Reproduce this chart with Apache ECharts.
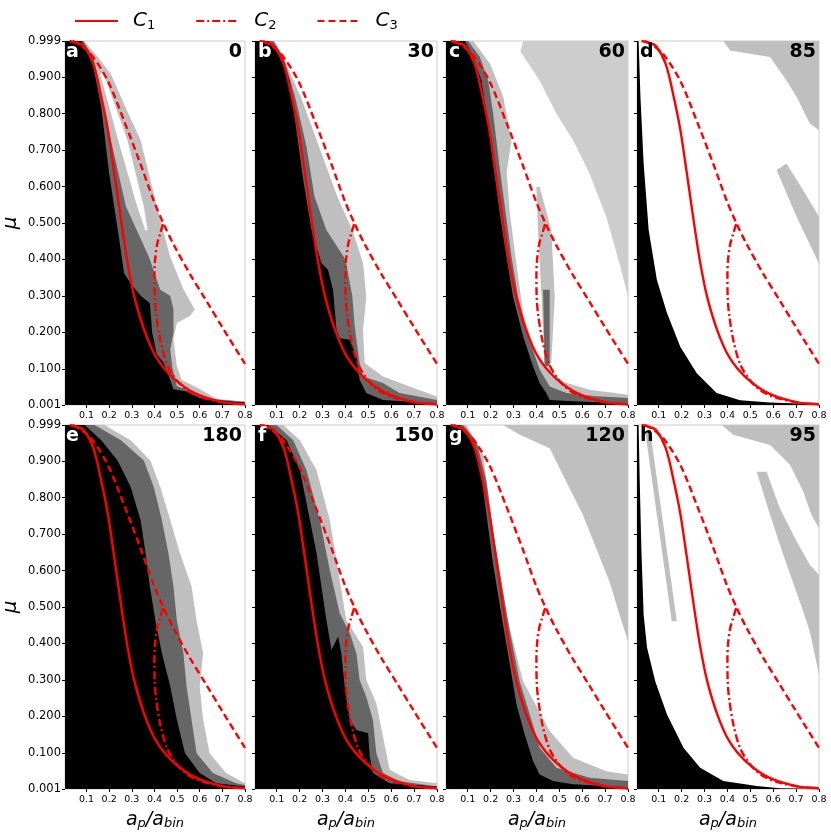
<!DOCTYPE html>
<html>
<head>
<meta charset="utf-8">
<script src="https://cdn.jsdelivr.net/npm/echarts@6/dist/echarts.min.js"></script>
<style>
html,body{margin:0;padding:0;background:#fff;}
#main{width:831px;height:833px;}
</style>
</head>
<body>
<div id="main"></div>
<script>
// tick labels
var xTicks = [0.1, 0.2, 0.3, 0.4, 0.5, 0.6, 0.7, 0.8];
var yTicks = [0.001, 0.1, 0.2, 0.3, 0.4, 0.5, 0.6, 0.7, 0.8, 0.9, 0.999];

// analytic curves (same in every panel)
var c1 = [[0.025,0.999],[0.058,0.994],[0.088,0.985],[0.131,0.935],[0.166,0.844],[0.195,0.753],[0.217,0.661],[0.238,0.57],[0.259,0.479],[0.282,0.388],[0.312,0.296],[0.356,0.205],[0.408,0.132],[0.48,0.077],[0.583,0.032],[0.7,0.009],[0.8,0.003]];
var c2 = [[0.438,0.497],[0.425,0.47],[0.412,0.442],[0.403,0.4],[0.4,0.36],[0.401,0.3],[0.407,0.251],[0.426,0.178],[0.455,0.114],[0.499,0.068],[0.557,0.036],[0.629,0.018],[0.731,0.006],[0.8,0.003]];
var c3 = [[0.04,0.999],[0.078,0.985],[0.121,0.962],[0.194,0.89],[0.266,0.78],[0.339,0.661],[0.397,0.561],[0.441,0.497],[0.484,0.442],[0.557,0.36],[0.629,0.287],[0.702,0.212],[0.8,0.114]];

// panel a (0)
var lightA = [[0.005,0.999],[0.09,0.999],[0.15,0.955],[0.208,0.908],[0.27,0.82],[0.339,0.727],[0.411,0.545],[0.469,0.408],[0.527,0.32],[0.578,0.263],[0.557,0.245],[0.499,0.226],[0.484,0.181],[0.499,0.108],[0.52,0.07],[0.6,0.045],[0.673,0.018],[0.8,0.01],[0.8,0.001],[0.005,0.001]];
var gapA = [[0.16,0.91],[0.175,0.91],[0.281,0.727],[0.353,0.545],[0.37,0.48],[0.36,0.48],[0.324,0.545],[0.24,0.727]];
var darkA = [[0.005,0.999],[0.085,0.999],[0.13,0.955],[0.16,0.868],[0.208,0.727],[0.274,0.545],[0.375,0.408],[0.426,0.317],[0.47,0.3],[0.484,0.263],[0.484,0.199],[0.47,0.153],[0.48,0.1],[0.499,0.053],[0.571,0.035],[0.658,0.017],[0.8,0.01],[0.8,0.001],[0.005,0.001]];
var blackA = [[0.005,0.999],[0.078,0.999],[0.121,0.955],[0.136,0.91],[0.165,0.818],[0.2,0.636],[0.245,0.453],[0.266,0.362],[0.3,0.33],[0.34,0.3],[0.38,0.28],[0.39,0.2],[0.41,0.14],[0.441,0.117],[0.47,0.069],[0.484,0.044],[0.542,0.038],[0.6,0.02],[0.745,0.01],[0.8,0.008],[0.8,0.001],[0.005,0.001]];

// panel b (30)
var lightB = [[0.005,0.999],[0.09,0.999],[0.14,0.937],[0.205,0.846],[0.285,0.709],[0.365,0.572],[0.43,0.481],[0.477,0.39],[0.491,0.298],[0.477,0.207],[0.484,0.116],[0.564,0.079],[0.68,0.052],[0.8,0.024],[0.8,0.001],[0.005,0.001]];
var darkB = [[0.005,0.999],[0.085,0.999],[0.13,0.955],[0.18,0.846],[0.23,0.709],[0.265,0.572],[0.317,0.481],[0.4,0.4],[0.43,0.3],[0.44,0.22],[0.448,0.18],[0.462,0.116],[0.477,0.079],[0.564,0.061],[0.636,0.034],[0.8,0.015],[0.8,0.001],[0.005,0.001]];
var blackB = [[0.005,0.999],[0.063,0.999],[0.114,0.964],[0.157,0.891],[0.186,0.754],[0.216,0.618],[0.252,0.481],[0.295,0.39],[0.324,0.371],[0.346,0.316],[0.361,0.207],[0.375,0.184],[0.419,0.18],[0.448,0.134],[0.462,0.07],[0.491,0.034],[0.564,0.015],[0.8,0.006],[0.8,0.001],[0.005,0.001]];

// panel c (60)
var topC = [[0.342,0.999],[0.8,0.999],[0.8,0.298],[0.763,0.389],[0.705,0.517],[0.632,0.636],[0.56,0.727],[0.487,0.8],[0.414,0.891],[0.33,0.97]];
var lightC = [[0.005,0.999],[0.124,0.999],[0.197,0.937],[0.255,0.846],[0.291,0.727],[0.27,0.64],[0.284,0.526],[0.31,0.4],[0.342,0.253],[0.4,0.134],[0.487,0.07],[0.632,0.043],[0.8,0.029],[0.8,0.001],[0.005,0.001]];
var darkC = [[0.005,0.999],[0.102,0.999],[0.153,0.955],[0.189,0.891],[0.211,0.8],[0.237,0.663],[0.266,0.526],[0.291,0.408],[0.32,0.298],[0.364,0.189],[0.414,0.098],[0.458,0.052],[0.531,0.034],[0.661,0.025],[0.8,0.02],[0.8,0.001],[0.005,0.001]];
var blackC = [[0.005,0.999],[0.088,0.999],[0.124,0.955],[0.16,0.891],[0.182,0.8],[0.211,0.663],[0.24,0.526],[0.269,0.408],[0.298,0.298],[0.342,0.189],[0.385,0.107],[0.414,0.061],[0.443,0.034],[0.458,0.015],[0.56,0.011],[0.8,0.006],[0.8,0.001],[0.005,0.001]];
var spikeLightC = [[0.4,0.599],[0.414,0.599],[0.465,0.481],[0.48,0.298],[0.465,0.116],[0.436,0.107],[0.422,0.298],[0.407,0.481]];
var spikeDarkC = [[0.429,0.317],[0.458,0.317],[0.458,0.107],[0.436,0.107]];

// panel d (85)
var topD = [[0.382,0.999],[0.8,0.999],[0.8,0.754],[0.76,0.773],[0.702,0.846],[0.658,0.891],[0.586,0.955],[0.412,0.973]];
var bandD = [[0.615,0.645],[0.658,0.663],[0.731,0.59],[0.8,0.517],[0.8,0.389],[0.702,0.517]];
var blackD = [[0.005,0.999],[0.012,0.999],[0.02,0.846],[0.034,0.663],[0.056,0.481],[0.092,0.344],[0.136,0.253],[0.194,0.161],[0.266,0.088],[0.353,0.034],[0.455,0.014],[0.586,0.008],[0.8,0.003],[0.8,0.001],[0.005,0.001]];

// panel e (180)
var lightE = [[0.005,0.999],[0.179,0.999],[0.295,0.957],[0.382,0.902],[0.426,0.829],[0.47,0.738],[0.513,0.647],[0.564,0.556],[0.586,0.464],[0.615,0.373],[0.6,0.282],[0.615,0.191],[0.644,0.099],[0.716,0.045],[0.8,0.017],[0.8,0.001],[0.005,0.001]];
var darkE = [[0.005,0.999],[0.136,0.999],[0.252,0.957],[0.353,0.902],[0.397,0.829],[0.433,0.738],[0.462,0.647],[0.484,0.556],[0.499,0.464],[0.528,0.373],[0.542,0.282],[0.564,0.191],[0.586,0.099],[0.658,0.045],[0.76,0.017],[0.8,0.012],[0.8,0.001],[0.005,0.001]];
var blackE = [[0.005,0.999],[0.092,0.999],[0.165,0.957],[0.237,0.902],[0.295,0.829],[0.339,0.738],[0.361,0.647],[0.38,0.556],[0.404,0.464],[0.433,0.373],[0.47,0.282],[0.499,0.191],[0.535,0.099],[0.6,0.045],[0.673,0.017],[0.8,0.008],[0.8,0.001],[0.005,0.001]];

// panel f (150)
var lightF = [[0.005,0.999],[0.128,0.999],[0.201,0.957],[0.274,0.875],[0.332,0.738],[0.368,0.601],[0.404,0.464],[0.477,0.391],[0.491,0.3],[0.535,0.236],[0.564,0.145],[0.593,0.054],[0.68,0.026],[0.8,0.017],[0.8,0.001],[0.005,0.001]];
var darkF = [[0.005,0.999],[0.099,0.999],[0.172,0.957],[0.23,0.875],[0.288,0.738],[0.332,0.601],[0.375,0.483],[0.419,0.428],[0.448,0.373],[0.462,0.3],[0.491,0.254],[0.52,0.19],[0.535,0.099],[0.564,0.045],[0.636,0.022],[0.8,0.008],[0.8,0.001],[0.005,0.001]];
var blackF = [[0.005,0.999],[0.063,0.999],[0.143,0.957],[0.201,0.875],[0.245,0.738],[0.274,0.647],[0.295,0.556],[0.317,0.464],[0.339,0.382],[0.368,0.419],[0.382,0.373],[0.397,0.282],[0.419,0.191],[0.448,0.163],[0.499,0.154],[0.506,0.09],[0.52,0.045],[0.593,0.017],[0.8,0.008],[0.8,0.001],[0.005,0.001]];

// panel g (120)
var topG = [[0.255,0.999],[0.8,0.999],[0.8,0.406],[0.763,0.479],[0.719,0.57],[0.661,0.661],[0.603,0.753],[0.53,0.844],[0.458,0.935],[0.327,0.972]];
var lightG = [[0.005,0.999],[0.095,0.999],[0.168,0.917],[0.211,0.707],[0.269,0.479],[0.342,0.296],[0.458,0.16],[0.56,0.087],[0.705,0.05],[0.8,0.041],[0.8,0.001],[0.005,0.001]];
var darkG = [[0.005,0.999],[0.08,0.999],[0.139,0.953],[0.182,0.844],[0.211,0.707],[0.247,0.57],[0.284,0.433],[0.327,0.296],[0.371,0.205],[0.414,0.114],[0.487,0.059],[0.632,0.032],[0.8,0.023],[0.8,0.001],[0.005,0.001]];
var blackG = [[0.005,0.999],[0.066,0.999],[0.117,0.953],[0.153,0.89],[0.182,0.753],[0.211,0.616],[0.247,0.479],[0.284,0.342],[0.313,0.233],[0.349,0.15],[0.385,0.078],[0.414,0.041],[0.472,0.023],[0.56,0.014],[0.8,0.006],[0.8,0.001],[0.005,0.001]];

// panel h (95)
var topH = [[0.375,0.999],[0.8,0.999],[0.8,0.716],[0.767,0.753],[0.731,0.817],[0.673,0.89],[0.586,0.944],[0.426,0.972]];
var bandH = [[0.528,0.871],[0.571,0.871],[0.629,0.771],[0.702,0.68],[0.76,0.616],[0.8,0.588],[0.8,0.315],[0.76,0.433],[0.716,0.515],[0.644,0.643],[0.586,0.753]];
var streakH = [[0.041,0.981],[0.063,0.981],[0.179,0.461],[0.157,0.461]];
var blackH = [[0.005,0.999],[0.012,0.999],[0.017,0.844],[0.024,0.661],[0.034,0.479],[0.049,0.388],[0.085,0.296],[0.136,0.205],[0.208,0.114],[0.281,0.059],[0.382,0.023],[0.528,0.009],[0.629,0.003],[0.8,0.002],[0.8,0.001],[0.005,0.001]];

var LIGHT = '#bfbfbf', DARK = '#666666', BLACK = '#000000', WHITE = '#ffffff';

var panels = [
    {letter:'a', num:'0',   lc:'#fff', regions:[[lightA,LIGHT],[gapA,WHITE],[darkA,DARK],[blackA,BLACK]]},
    {letter:'b', num:'30',  lc:'#fff', regions:[[lightB,LIGHT],[darkB,DARK],[blackB,BLACK]]},
    {letter:'c', num:'60',  lc:'#fff', regions:[[topC,'#cdcdcd'],[lightC,LIGHT],[darkC,DARK],[blackC,BLACK],[spikeLightC,LIGHT],[spikeDarkC,DARK]]},
    {letter:'d', num:'85',  lc:'#000', regions:[[topD,LIGHT],[bandD,LIGHT],[blackD,BLACK]]},
    {letter:'e', num:'180', lc:'#fff', regions:[[lightE,LIGHT],[darkE,DARK],[blackE,BLACK]]},
    {letter:'f', num:'150', lc:'#fff', regions:[[lightF,LIGHT],[darkF,DARK],[blackF,BLACK]]},
    {letter:'g', num:'120', lc:'#fff', regions:[[topG,LIGHT],[lightG,LIGHT],[darkG,DARK],[blackG,BLACK]]},
    {letter:'h', num:'95',  lc:'#000', regions:[[topH,LIGHT],[bandH,LIGHT],[streakH,LIGHT],[blackH,BLACK]]}
];

var colLeft = [63, 255, 446, 637];
var rowTop = [41, 425];
var W = 182, H = 364;
var FONT = 'DejaVu Sans';

var grids = [], xAxes = [], yAxes = [], series = [], graphics = [];

function polySeries(idx, pts, color) {
    return {
        type: 'custom', xAxisIndex: idx, yAxisIndex: idx, silent: true, z: 1,
        data: pts,
        renderItem: function (params, api) {
            if (params.dataIndex !== 0) return null;
            var p = pts.map(function (d) { return api.coord(d); });
            return {type: 'polygon', shape: {points: p}, style: {fill: color}};
        }
    };
}

panels.forEach(function (pn, i) {
    var col = i % 4, row = Math.floor(i / 4);
    var left = colLeft[col], top = rowTop[row];
    grids.push({left: left, top: top, width: W, height: H, show: true,
        borderColor: '#cccccc', borderWidth: 1, backgroundColor: '#fff'});
    xAxes.push({
        gridIndex: i, type: 'value', min: 0.005, max: 0.8,
        axisLine: {show: false}, splitLine: {show: false},
        axisTick: {customValues: xTicks, length: 3, lineStyle: {color: '#000'}},
        axisLabel: {customValues: xTicks, formatter: function (v) { return v.toFixed(1); },
            fontFamily: FONT, fontSize: 9.5, color: '#000', margin: 6},
        name: row === 1 ? '{i|a}{s|p}{i|/a}{s|bin}' : '',
        nameLocation: 'middle', nameGap: 19,
        nameTextStyle: {rich: {
            i: {fontFamily: FONT, fontStyle: 'italic', fontSize: 19, color: '#000', verticalAlign: 'bottom'},
            s: {fontFamily: FONT, fontStyle: 'italic', fontSize: 13, color: '#000', verticalAlign: 'bottom', padding: [9, 0, 0, 0]}
        }}
    });
    yAxes.push({
        gridIndex: i, type: 'value', min: 0.001, max: 0.999,
        axisLine: {show: false}, splitLine: {show: false},
        axisTick: {customValues: yTicks, length: 3, lineStyle: {color: '#000'}},
        axisLabel: {show: col === 0, customValues: yTicks, formatter: function (v) { return v.toFixed(3); },
            fontFamily: FONT, fontSize: 11.5, color: '#000', margin: 4},
        name: col === 0 ? 'μ' : '', nameLocation: 'middle', nameGap: 44,
        nameTextStyle: {fontFamily: FONT, fontStyle: 'italic', fontSize: 20, color: '#000'}
    });
    pn.regions.forEach(function (r) { series.push(polySeries(i, r[0], r[1])); });
    series.push({name: 'C1', type: 'line', xAxisIndex: i, yAxisIndex: i, data: c1, smooth: 0.3,
        symbol: 'none', z: 5, silent: true, lineStyle: {color: '#ff0000', width: 2.4, type: 'solid'}, itemStyle: {color: '#ff0000'}});
    series.push({name: 'C2', type: 'line', xAxisIndex: i, yAxisIndex: i, data: c2, smooth: 0.3,
        symbol: 'none', z: 5, silent: true, lineStyle: {color: '#ff0000', width: 2.4, type: [8, 3, 2, 3]}, itemStyle: {color: '#ff0000'}});
    series.push({name: 'C3', type: 'line', xAxisIndex: i, yAxisIndex: i, data: c3, smooth: 0.3,
        symbol: 'none', z: 5, silent: true, lineStyle: {color: '#ff0000', width: 2.4, type: [7, 4]}, itemStyle: {color: '#ff0000'}});
    graphics.push({type: 'text', x: left + 3, y: top + 2, z: 10,
        style: {text: pn.letter, font: 'bold 19px "DejaVu Sans"', fill: pn.lc, align: 'left', verticalAlign: 'top'}});
    graphics.push({type: 'text', x: left + W - 3, y: top + 2, z: 10,
        style: {text: pn.num, font: 'bold 19px "DejaVu Sans"', fill: '#000', align: 'right', verticalAlign: 'top'}});
});

var chart = echarts.init(document.getElementById('main'), null, {renderer: 'canvas'});
chart.setOption({
    animation: false,
    backgroundColor: '#fff',
    legend: {
        data: ['C1', 'C2', 'C3'], left: 69, top: 6, itemWidth: 43, itemHeight: 10, itemGap: 40,
        itemStyle: {opacity: 0},
        formatter: function (n) { return '{c|C}{s|' + n.slice(1) + '}'; },
        textStyle: {padding: [0, 0, 0, 10], rich: {
            c: {fontFamily: FONT, fontStyle: 'italic', fontSize: 20, color: '#000'},
            s: {fontFamily: FONT, fontSize: 13, color: '#000', padding: [10, 0, 0, 0]}
        }}
    },
    grid: grids,
    xAxis: xAxes,
    yAxis: yAxes,
    series: series,
    graphic: graphics
});
</script>
</body>
</html>
